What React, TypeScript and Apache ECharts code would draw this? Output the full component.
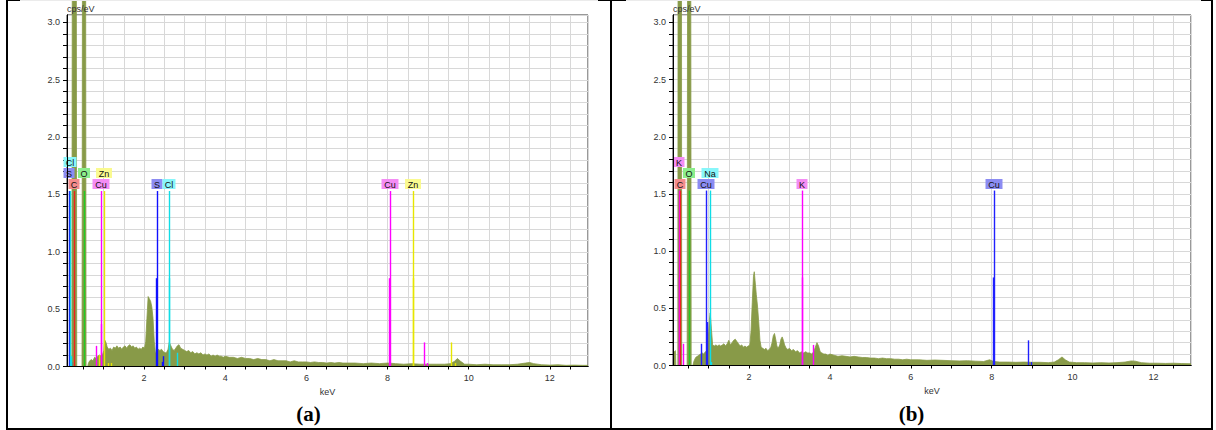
import React, { useEffect, useRef } from "react";
import * as echarts from "echarts";

type Pt = [number, number];
type Marker = [number, number, string];
type Tag = [string, number, number];

// EDS spectra: [energy keV, intensity cps/eV]
const spectrumA: Pt[] = [
  [0.1, 0], [0.22, 0], [0.23, 3.4], [0.33, 3.4], [0.34, 0], [0.47, 0], [0.48, 3.3], [0.56, 3.3], [0.57, 0],
  [0.61, 0], [0.63, 0.03], [0.66, 0.05], [0.7, 0.06], [0.74, 0.05], [0.78, 0.08], [0.82, 0.07], [0.86, 0.09],
  [0.9, 0.1], [0.94, 0.09], [0.98, 0.11], [1.01, 0.14], [1.03, 0.23], [1.06, 0.21], [1.09, 0.17], [1.13, 0.15],
  [1.17, 0.16], [1.21, 0.14], [1.25, 0.17], [1.29, 0.16], [1.33, 0.18], [1.37, 0.16], [1.41, 0.17], [1.45, 0.15],
  [1.49, 0.17], [1.53, 0.18], [1.57, 0.16], [1.61, 0.18], [1.65, 0.19], [1.69, 0.17], [1.73, 0.18], [1.77, 0.16],
  [1.81, 0.17], [1.85, 0.15], [1.89, 0.16], [1.93, 0.15], [1.97, 0.17], [2.01, 0.16], [2.04, 0.22], [2.07, 0.42],
  [2.1, 0.61], [2.13, 0.59], [2.16, 0.57], [2.19, 0.52], [2.22, 0.42], [2.25, 0.22], [2.28, 0.12], [2.31, 0.13],
  [2.35, 0.15], [2.39, 0.14], [2.43, 0.15], [2.47, 0.13], [2.51, 0.12], [2.55, 0.12], [2.59, 0.15], [2.62, 0.21],
  [2.66, 0.18], [2.7, 0.15], [2.74, 0.14], [2.78, 0.16], [2.82, 0.18], [2.86, 0.19], [2.9, 0.16], [2.95, 0.15],
  [3.0, 0.14], [3.05, 0.13], [3.1, 0.14], [3.15, 0.12], [3.2, 0.13], [3.25, 0.11], [3.3, 0.12], [3.35, 0.11],
  [3.4, 0.12], [3.45, 0.1], [3.5, 0.11], [3.55, 0.1], [3.6, 0.11], [3.65, 0.09], [3.7, 0.1], [3.75, 0.09],
  [3.8, 0.1], [3.85, 0.09], [3.9, 0.09], [3.95, 0.08], [4.0, 0.09], [4.1, 0.08], [4.2, 0.08], [4.3, 0.07],
  [4.4, 0.08], [4.5, 0.07], [4.6, 0.07], [4.7, 0.06], [4.8, 0.07], [4.9, 0.06], [5.0, 0.06], [5.1, 0.05],
  [5.2, 0.06], [5.3, 0.05], [5.4, 0.05], [5.5, 0.05], [5.6, 0.04], [5.7, 0.05], [5.8, 0.04], [5.9, 0.04],
  [6.0, 0.04], [6.1, 0.035], [6.2, 0.04], [6.3, 0.035], [6.4, 0.035], [6.5, 0.03], [6.6, 0.035], [6.7, 0.03],
  [6.8, 0.035], [6.9, 0.03], [7.0, 0.03], [7.2, 0.03], [7.4, 0.025], [7.6, 0.03], [7.8, 0.025], [8.0, 0.03],
  [8.2, 0.025], [8.4, 0.02], [8.6, 0.025], [8.8, 0.02], [9.0, 0.02], [9.2, 0.02], [9.4, 0.02], [9.55, 0.025],
  [9.65, 0.045], [9.72, 0.07], [9.8, 0.045], [9.9, 0.02], [10.0, 0.02], [10.2, 0.015], [10.4, 0.02], [10.6, 0.015],
  [10.8, 0.015], [11.0, 0.015], [11.2, 0.02], [11.4, 0.03], [11.5, 0.035], [11.6, 0.025], [11.8, 0.015],
  [12.0, 0.012], [12.2, 0.015], [12.4, 0.01], [12.6, 0.012], [12.8, 0.01], [12.94, 0.01],
];

const spectrumB: Pt[] = [
  [0.12, 0.13], [0.15, 0.12], [0.18, 0.13], [0.19, 0], [0.24, 0], [0.245, 3.4], [0.33, 3.4], [0.335, 0],
  [0.47, 0], [0.48, 3.3], [0.56, 3.3], [0.57, 0], [0.61, 0], [0.64, 0.04], [0.68, 0.07], [0.72, 0.08],
  [0.76, 0.09], [0.8, 0.1], [0.84, 0.11], [0.88, 0.1], [0.92, 0.12], [0.96, 0.13], [0.99, 0.22], [1.02, 0.4],
  [1.04, 0.46], [1.07, 0.32], [1.1, 0.18], [1.14, 0.17], [1.18, 0.18], [1.22, 0.17], [1.26, 0.18], [1.3, 0.17],
  [1.34, 0.18], [1.38, 0.19], [1.42, 0.17], [1.46, 0.19], [1.5, 0.22], [1.54, 0.18], [1.58, 0.2], [1.62, 0.22],
  [1.66, 0.23], [1.7, 0.21], [1.74, 0.19], [1.78, 0.17], [1.82, 0.18], [1.86, 0.16], [1.9, 0.17], [1.94, 0.16],
  [1.98, 0.17], [2.02, 0.18], [2.05, 0.3], [2.08, 0.55], [2.11, 0.78], [2.13, 0.82], [2.15, 0.74], [2.18, 0.62],
  [2.21, 0.52], [2.24, 0.38], [2.27, 0.22], [2.3, 0.16], [2.34, 0.15], [2.38, 0.14], [2.42, 0.15], [2.46, 0.13],
  [2.5, 0.14], [2.54, 0.16], [2.57, 0.2], [2.6, 0.26], [2.63, 0.28], [2.66, 0.23], [2.69, 0.17], [2.72, 0.15],
  [2.76, 0.18], [2.79, 0.23], [2.82, 0.25], [2.85, 0.22], [2.88, 0.18], [2.92, 0.15], [2.96, 0.14], [3.0, 0.15],
  [3.05, 0.13], [3.1, 0.14], [3.15, 0.12], [3.2, 0.13], [3.25, 0.11], [3.3, 0.12], [3.35, 0.11], [3.4, 0.12],
  [3.45, 0.11], [3.5, 0.11], [3.55, 0.1], [3.6, 0.12], [3.64, 0.16], [3.68, 0.2], [3.72, 0.17], [3.76, 0.12],
  [3.8, 0.11], [3.85, 0.1], [3.9, 0.1], [3.95, 0.09], [4.0, 0.1], [4.1, 0.09], [4.2, 0.08], [4.3, 0.085],
  [4.4, 0.08], [4.5, 0.075], [4.6, 0.08], [4.7, 0.075], [4.8, 0.07], [4.9, 0.07], [5.0, 0.065], [5.1, 0.065],
  [5.2, 0.06], [5.3, 0.065], [5.4, 0.06], [5.5, 0.06], [5.6, 0.055], [5.7, 0.055], [5.8, 0.05], [5.9, 0.055],
  [6.0, 0.05], [6.2, 0.05], [6.4, 0.045], [6.6, 0.048], [6.8, 0.045], [7.0, 0.042], [7.2, 0.04], [7.4, 0.042],
  [7.6, 0.038], [7.8, 0.035], [7.95, 0.05], [8.05, 0.035], [8.2, 0.03], [8.4, 0.03], [8.6, 0.028], [8.8, 0.03],
  [9.0, 0.028], [9.2, 0.028], [9.4, 0.025], [9.55, 0.03], [9.65, 0.05], [9.74, 0.075], [9.82, 0.05], [9.92, 0.03],
  [10.1, 0.025], [10.3, 0.025], [10.5, 0.022], [10.7, 0.025], [10.9, 0.022], [11.1, 0.025], [11.3, 0.03],
  [11.45, 0.04], [11.55, 0.038], [11.7, 0.025], [11.9, 0.02], [12.1, 0.02], [12.3, 0.018], [12.5, 0.02],
  [12.7, 0.017], [12.93, 0.015],
];

// element line markers: [energy keV, height cps/eV, element]
const linesA: Marker[] = [
  [0.149, 1.53, "S"], [0.21, 0.04, "S"],
  [0.183, 1.53, "Cl"], [0.2, 0.09, "Cl"],
  [0.277, 1.53, "C"],
  [0.525, 1.53, "O"],
  [0.811, 0.18, "Cu"], [0.93, 1.53, "Cu"], [0.95, 0.37, "Cu"],
  [0.884, 0.1, "Zn"], [1.012, 1.53, "Zn"], [1.107, 0.03, "Zn"], [1.19, 0.03, "Zn"],
  [2.307, 1.53, "S"], [2.3, 0.77, "S"], [2.44, 0.04, "S"], [2.464, 0.09, "S"],
  [2.622, 1.53, "Cl"], [2.615, 0.77, "Cl"], [2.816, 0.12, "Cl"],
  [8.048, 1.53, "Cu"], [8.028, 0.77, "Cu"], [8.905, 0.21, "Cu"], [8.977, 0.03, "Cu"],
  [8.639, 1.53, "Zn"], [8.616, 0.77, "Zn"], [9.572, 0.21, "Zn"], [9.65, 0.03, "Zn"],
];

const linesB: Marker[] = [
  [0.26, 1.53, "K"], [0.265, 0.77, "K"], [0.36, 0.19, "K"],
  [0.285, 1.53, "C"],
  [0.525, 1.53, "O"],
  [0.811, 0.19, "Cu"], [0.93, 1.53, "Cu"], [0.95, 0.38, "Cu"],
  [1.041, 1.53, "Na"], [1.07, 0.03, "Na"],
  [3.313, 1.53, "K"], [3.3, 0.77, "K"], [3.59, 0.18, "K"],
  [8.048, 1.53, "Cu"], [8.028, 0.77, "Cu"], [8.905, 0.22, "Cu"], [8.977, 0.03, "Cu"],
];

// element tags: [symbol, energy keV, stacking row]
const tagsA: Tag[] = [
  ["Cl", 0.183, 2], ["S", 0.149, 1], ["C", 0.277, 0], ["O", 0.525, 1], ["Zn", 1.012, 1],
  ["Cu", 0.93, 0], ["S", 2.307, 0], ["Cl", 2.622, 0], ["Cu", 8.048, 0], ["Zn", 8.639, 0],
];

const tagsB: Tag[] = [
  ["K", 0.26, 2], ["C", 0.285, 0], ["O", 0.525, 1], ["Na", 1.041, 1], ["Cu", 0.93, 0],
  ["K", 3.313, 0], ["Cu", 8.048, 0],
];

// element palettes: [line colour, tag colour]
const colorsA: Record<string, [string, string]> = {
  S: ["#1010ff", "#8c8cf2"],
  Cl: ["#10dde6", "#88f6fa"],
  C: ["#ee2020", "#f48c8c"],
  O: ["#22cc22", "#8cee8c"],
  Cu: ["#ff00ff", "#f48cf4"],
  Zn: ["#e6e600", "#fafa90"],
};

const colorsB: Record<string, [string, string]> = {
  C: ["#ee2020", "#f48c8c"],
  O: ["#22cc22", "#8cee8c"],
  Na: ["#10dde6", "#88f6fa"],
  K: ["#ff00ff", "#f48cf4"],
  Cu: ["#2020ff", "#8c8cf2"],
};

const xRangeA: Pt = [0.1, 12.94];
const xRangeB: Pt = [0.12, 12.93];
const yMax = 3.065;
const markerTop = 1.53;

const OLIVE = "#889a48";
const FONT = '"Liberation Sans", Arial, sans-serif';
const TAG_FONT = `9px ${FONT}`;
const GRID_COLOR = "#d8d8d8";

let measureCtx: CanvasRenderingContext2D | null = null;
function textWidth(t: string): number {
  if (!measureCtx) measureCtx = document.createElement("canvas").getContext("2d");
  if (!measureCtx) return t.length * 6;
  measureCtx.font = TAG_FONT;
  return measureCtx.measureText(t).width;
}

function xAxisFor(gi: number, range: Pt) {
  return {
    type: "value",
    gridIndex: gi,
    min: range[0],
    max: range[1],
    splitNumber: 26,
    minInterval: 0.5,
    maxInterval: 0.5,
    name: "keV",
    nameLocation: "middle",
    nameGap: 18,
    nameTextStyle: { fontSize: 9, color: "#333", fontFamily: FONT },
    axisLine: { show: true, onZero: false, lineStyle: { color: "#000", width: 1 } },
    axisTick: { show: true, length: 3, lineStyle: { color: "#000" } },
    axisLabel: {
      fontSize: 9,
      color: "#333",
      fontFamily: FONT,
      margin: 7,
      showMinLabel: false,
      showMaxLabel: false,
      formatter: (v: number) => {
        const r = Math.round(v);
        return Math.abs(v - r) < 1e-6 && r > 0 && r % 2 === 0 ? String(r) : "";
      },
    },
    splitLine: { show: true, lineStyle: { color: GRID_COLOR, width: 1 } },
  };
}

function yAxisFor(gi: number) {
  return {
    type: "value",
    gridIndex: gi,
    min: 0,
    max: yMax,
    interval: 0.1,
    axisLine: { show: true, lineStyle: { color: "#000", width: 1 } },
    axisTick: { show: true, length: 4, lineStyle: { color: "#000" } },
    axisLabel: {
      fontSize: 9,
      color: "#333",
      fontFamily: FONT,
      margin: 7,
      showMaxLabel: false,
      formatter: (v: number) => {
        const h = v * 2;
        return Math.abs(h - Math.round(h)) < 1e-6 ? v.toFixed(1) : "";
      },
    },
    splitLine: { show: true, lineStyle: { color: GRID_COLOR, width: 1 } },
  };
}

// bare axis lines (and the unit name) drawn above the spectrum fill
function xLineOverlay(gi: number, range: Pt) {
  return {
    type: "value",
    gridIndex: gi,
    min: range[0],
    max: range[1],
    position: "bottom",
    axisLine: { show: true, onZero: false, lineStyle: { color: "#000", width: 1 } },
    axisTick: { show: false },
    axisLabel: { show: false },
    splitLine: { show: false },
    z: 10,
  };
}

function yLineOverlay(gi: number) {
  return {
    type: "value",
    gridIndex: gi,
    min: 0,
    max: yMax,
    position: "left",
    name: "cps/eV",
    nameLocation: "end",
    nameGap: 2,
    nameTextStyle: { fontSize: 9, color: "#333", fontFamily: FONT, align: "left", verticalAlign: "bottom" },
    axisLine: { show: true, onZero: false, lineStyle: { color: "#000", width: 1 } },
    axisTick: { show: false },
    axisLabel: { show: false },
    splitLine: { show: false },
    z: 10,
  };
}

function spectrumSeries(gi: number, data: Pt[]) {
  return {
    type: "line",
    xAxisIndex: gi,
    yAxisIndex: gi,
    data,
    symbol: "none",
    clip: false,
    silent: true,
    lineStyle: { color: OLIVE, width: 0.8 },
    areaStyle: { color: OLIVE, opacity: 1 },
    z: 2,
  };
}

function markerSeries(gi: number, lines: Marker[], colors: Record<string, [string, string]>) {
  return {
    type: "custom",
    xAxisIndex: gi,
    yAxisIndex: gi,
    silent: true,
    z: 3,
    data: lines.map((l) => [l[0], l[1]]),
    encode: { x: 0, y: 1 },
    renderItem: (params: any, api: any) => {
      const line = lines[params.dataIndex];
      const p0 = api.coord([api.value(0), 0]);
      const p1 = api.coord([api.value(0), api.value(1)]);
      const x = Math.round(p0[0]) + 0.5;
      return {
        type: "line",
        shape: { x1: x, y1: p0[1], x2: x, y2: p1[1] },
        style: { stroke: colors[line[2]][0], lineWidth: 1.4 },
      };
    },
  };
}

function tagSeries(gi: number, tags: Tag[], colors: Record<string, [string, string]>) {
  return {
    type: "custom",
    xAxisIndex: gi,
    yAxisIndex: gi,
    silent: true,
    z: 4,
    data: tags.map((t) => [t[1], markerTop]),
    encode: { x: 0, y: 1 },
    renderItem: (params: any, api: any) => {
      const [sym, , row] = tags[params.dataIndex];
      const p = api.coord([api.value(0), api.value(1)]);
      const cx = Math.round(p[0]);
      const cy = Math.round(p[1]) - 7 - row * 11;
      const w = Math.round(textWidth(sym) + 5);
      return {
        type: "group",
        children: [
          {
            type: "rect",
            shape: { x: cx - w / 2, y: cy - 5, width: w, height: 10 },
            style: { fill: colors[sym][1] },
          },
          {
            type: "text",
            style: {
              text: sym,
              x: cx,
              y: cy + 0.5,
              align: "center",
              verticalAlign: "middle",
              font: TAG_FONT,
              fill: "#111",
            },
          },
        ],
      };
    },
  };
}

const SERIF_BOLD = 'bold 21px "Liberation Serif", "Times New Roman", serif';

export default function App() {
  const ref = useRef<HTMLDivElement>(null);

  useEffect(() => {
    if (!ref.current) return;
    const chart = echarts.init(ref.current, undefined, { renderer: "svg" });
    chart.setOption({
      animation: false,
      backgroundColor: "#fff",
      grid: [
        { left: 67, top: 15, width: 521, height: 351.5, show: true, borderColor: "#333", borderWidth: 1, backgroundColor: "transparent" },
        { left: 673, top: 15, width: 518, height: 350.5, show: true, borderColor: "#333", borderWidth: 1, backgroundColor: "transparent" },
      ],
      xAxis: [xAxisFor(0, xRangeA), xAxisFor(1, xRangeB), xLineOverlay(0, xRangeA), xLineOverlay(1, xRangeB)],
      yAxis: [yAxisFor(0), yAxisFor(1), yLineOverlay(0), yLineOverlay(1)],
      series: [
        spectrumSeries(0, spectrumA),
        markerSeries(0, linesA, colorsA),
        tagSeries(0, tagsA, colorsA),
        spectrumSeries(1, spectrumB),
        markerSeries(1, linesB, colorsB),
        tagSeries(1, tagsB, colorsB),
      ],
      graphic: [
        // table frame around the two panels
        { type: "rect", z: 100, shape: { x: 6, y: 0, width: 1207, height: 1 }, style: { fill: "#ebebeb" } },
        { type: "rect", z: 100, shape: { x: 6, y: 0, width: 14, height: 1 }, style: { fill: "#000" } },
        { type: "rect", z: 100, shape: { x: 598, y: 0, width: 28, height: 1 }, style: { fill: "#000" } },
        { type: "rect", z: 100, shape: { x: 1201, y: 0, width: 12, height: 1 }, style: { fill: "#000" } },
        { type: "rect", z: 100, shape: { x: 6, y: 0, width: 2, height: 430 }, style: { fill: "#000" } },
        { type: "rect", z: 100, shape: { x: 610, y: 0, width: 2, height: 430 }, style: { fill: "#000" } },
        { type: "rect", z: 100, shape: { x: 1211, y: 0, width: 2, height: 430 }, style: { fill: "#000" } },
        { type: "rect", z: 100, shape: { x: 6, y: 428, width: 1207, height: 2 }, style: { fill: "#000" } },
        {
          type: "text",
          z: 100,
          style: { text: "(a)", x: 308.5, y: 414, align: "center", verticalAlign: "middle", font: SERIF_BOLD, fill: "#000" },
        },
        {
          type: "text",
          z: 100,
          style: { text: "(b)", x: 911.5, y: 414, align: "center", verticalAlign: "middle", font: SERIF_BOLD, fill: "#000" },
        },
      ],
    });
    return () => chart.dispose();
  }, []);

  return (
    <div
      ref={ref}
      style={{ position: "absolute", left: 0, top: 0, width: 1216, height: 430, background: "#fff" }}
    />
  );
}
